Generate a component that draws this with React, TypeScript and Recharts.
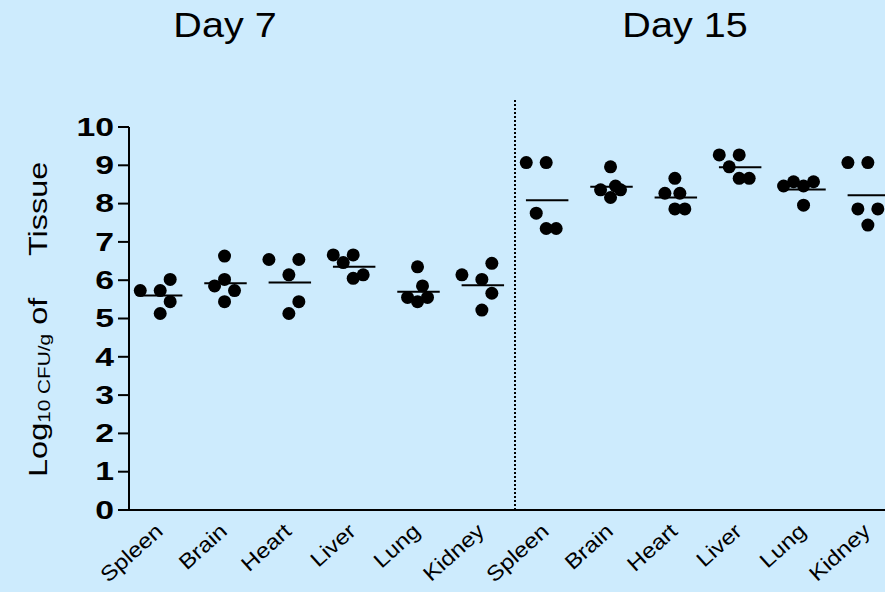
import React from "react";
import { ScatterChart, Scatter, XAxis, YAxis, ReferenceLine } from "recharts";

const organs = ["Spleen", "Brain", "Heart", "Liver", "Lung", "Kidney"];
const categories = [...organs, ...organs];
const dayTitles = ["Day 7", "Day 15"];

// log10 CFU/g of tissue, five mice per organ
const day7Values = [
  [5.73, 5.73, 6.02, 5.44, 5.13],
  [6.63, 6.02, 5.85, 5.73, 5.44],
  [6.54, 6.54, 6.14, 5.44, 5.13],
  [6.66, 6.66, 6.46, 6.14, 6.05],
  [6.35, 5.85, 5.55, 5.44, 5.55],
  [6.14, 6.02, 6.44, 5.66, 5.22],
];
const day15Values = [
  [9.07, 9.07, 7.75, 7.35, 7.35],
  [8.96, 8.36, 8.46, 8.36, 8.16],
  [8.66, 8.27, 8.27, 7.86, 7.86],
  [9.27, 9.27, 8.96, 8.66, 8.66],
  [8.46, 8.57, 8.46, 8.57, 7.96],
  [9.07, 9.07, 7.86, 7.86, 7.44],
];
// where each dot sits sideways inside its column
const day7Slots = [
  [-2, 0, 1, 1, 0],
  [0, 0, -1, 1, 0],
  [-2, 1, 0, 1, 0],
  [-2, 0, -1, 1, 0],
  [0, 0.5, -1, 0, 1],
  [-2, 0, 1, 1, 0],
];
const day15Slots = [
  [-2, 0, -1, 0, 1],
  [0, -1, 0.5, 1, 0],
  [0, -1, 0.5, 0, 1],
  [-2, 0, -1, 0, 1],
  [-2, -1, 0, 1, 0],
  [-2, 0, -1, 1, 0],
];
const meanValues = [5.6, 5.92, 5.94, 6.35, 5.7, 5.87, 8.09, 8.44, 8.16, 8.95, 8.37, 8.22];
const yTicks = [0, 1, 2, 3, 4, 5, 6, 7, 8, 9, 10];

const JITTER = 0.155;
const FONT = "'Liberation Sans', Arial, sans-serif";
const BG = "#cdebfd";

const allValues = [...day7Values, ...day15Values];
const allSlots = [...day7Slots, ...day15Slots];
const points = allValues.flatMap((vals, i) =>
  vals.map((v, j) => ({ x: i + 0.5 + allSlots[i][j] * JITTER - 0.015, y: v }))
);
const xTicks = categories.map((_, i) => i + 0.5);

const YTick = (props: any) => {
  const { x, y, payload } = props;
  return (
    <text
      transform={`translate(${x},${y}) scale(1.35,1)`}
      textAnchor="end"
      dy="0.35em"
      fontFamily={FONT}
      fontWeight="bold"
      fontSize={25}
      fill="#000"
    >
      {payload.value}
    </text>
  );
};

const XTick = (props: any) => {
  const { x, y, payload } = props;
  const label = categories[Math.floor(payload.value)];
  return (
    <text
      transform={`translate(${x + 3},${y}) rotate(-42) scale(1.15,1)`}
      textAnchor="end"
      fontFamily={FONT}
      fontSize={21}
      fill="#000"
    >
      {label}
    </text>
  );
};

const Dot = (props: any) => <circle cx={props.cx} cy={props.cy} r={6.5} fill="#000" />;

export default function App() {
  return (
    <div
      style={{
        position: "absolute",
        left: 0,
        top: 0,
        width: 885,
        height: 592,
        overflow: "hidden",
        background: BG,
      }}
    >
      <ScatterChart
        width={920}
        height={592}
        margin={{ top: 127, right: 19, bottom: 52, left: 69 }}
      >
        <XAxis
          type="number"
          dataKey="x"
          domain={[0, 12]}
          ticks={xTicks}
          interval={0}
          tickLine={false}
          tickSize={0}
          tickMargin={23}
          height={30}
          axisLine={{ stroke: "#000", strokeWidth: 2 }}
          tick={<XTick />}
        />
        <YAxis
          type="number"
          dataKey="y"
          domain={[0, 10]}
          ticks={yTicks}
          interval={0}
          width={60}
          tickSize={11}
          tickMargin={4}
          axisLine={{ stroke: "#000", strokeWidth: 2 }}
          tickLine={{ stroke: "#000", strokeWidth: 2 }}
          tick={<YTick />}
        />
        <ReferenceLine
          segment={[{ x: 6, y: 0 }, { x: 6, y: 10.75 }]}
          stroke="#000"
          strokeWidth={2}
          strokeDasharray="2 2"
          ifOverflow="visible"
        />
        {meanValues.map((m, i) => (
          <ReferenceLine
            key={i}
            segment={[
              { x: i + 0.5 - 0.33, y: m },
              { x: i + 0.5 + 0.33, y: m },
            ]}
            stroke="#000"
            strokeWidth={2}
            ifOverflow="visible"
          />
        ))}
        <Scatter data={points} shape={<Dot />} isAnimationActive={false} />
      </ScatterChart>
      <svg
        width={885}
        height={592}
        style={{ position: "absolute", left: 0, top: 0, pointerEvents: "none" }}
      >
        <text
          transform="translate(225,37) scale(1.13,1)"
          textAnchor="middle"
          fontFamily={FONT}
          fontSize={35}
          fill="#000"
        >
          {dayTitles[0]}
        </text>
        <text
          transform="translate(685,37) scale(1.13,1)"
          textAnchor="middle"
          fontFamily={FONT}
          fontSize={35}
          fill="#000"
        >
          {dayTitles[1]}
        </text>
        <text
          transform="translate(47,477) rotate(-90) scale(1.3,1)"
          fontFamily={FONT}
          fontSize={25}
          fill="#000"
        >
          <tspan>Log</tspan>
          <tspan fontSize={16} dy={3}>10 CFU/g</tspan>
          <tspan dy={-3}> of</tspan>
          <tspan dx={32}>Tissue</tspan>
        </text>
      </svg>
    </div>
  );
}
